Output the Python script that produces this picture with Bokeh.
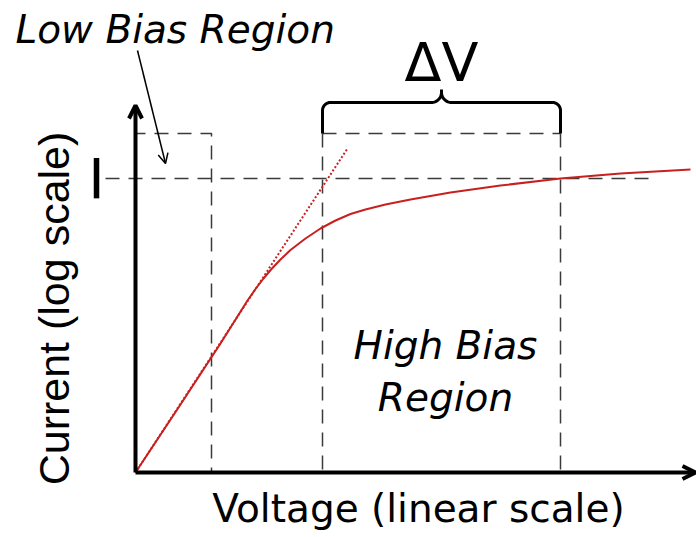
import numpy as np
from bokeh.plotting import figure
from bokeh.models import Range1d, Arrow, OpenHead
from bokeh.core.properties import value
from bokeh.embed import file_html
from bokeh.resources import INLINE

# I-V characteristic (voltage linear, current log), arbitrary units
voltage = [0, 45, 85, 112, 120, 128, 136, 145, 155, 170, 185, 200, 215, 230, 250, 275, 315, 365, 425, 485, 555]
current = [0, 68, 129, 172, 183.5, 194, 203.5, 213, 222.5, 234, 244, 252, 258.5, 263, 268, 273, 280, 287, 294, 299, 303]

# ideal (low-bias) exponential extrapolation
tangent_v = [0, 212]
tangent_i = [0, 324]

# region limits and reference current level
v_low_end = 76
v_high_start = 187
v_high_end = 425
i_level = 294
box_top = 339
v_axis_end = 560
i_axis_end = 367

RED = "#c8201e"
DASH_COL = "#3a3a3a"
DASH = "14 9"
FONT = "DejaVu Sans"

p = figure(width=696, height=537, x_range=Range1d(-135, 561), y_range=Range1d(-65, 472),
           output_backend="svg", toolbar_location=None, min_border=0,
           x_axis_type=None, y_axis_type=None)
p.grid.visible = False
p.outline_line_color = None
p.background_fill_color = "white"
p.border_fill_color = "white"

# low-bias region box
p.line([0, v_low_end, v_low_end], [box_top, box_top, 0], line_color=DASH_COL,
       line_width=1.5, line_dash=DASH, line_dash_offset=4)
# high-bias region box
p.line([v_high_start, v_high_end], [box_top, box_top], line_color=DASH_COL,
       line_width=1.5, line_dash=DASH)
p.line([v_high_start, v_high_start], [box_top, 0], line_color=DASH_COL,
       line_width=1.5, line_dash=DASH)
p.line([v_high_end, v_high_end], [box_top, 0], line_color=DASH_COL,
       line_width=1.5, line_dash=DASH)
# reference current level
p.line([-30, 520], [i_level, i_level], line_color=DASH_COL, line_width=1.5, line_dash=DASH)

# curly brace over the high-bias region
mid = (v_high_start + v_high_end) / 2
brace_y = box_top + 31
r1, r2 = 8, 10
th1 = np.linspace(np.pi, np.pi / 2, 12)
th2 = np.linspace(-np.pi / 2, 0, 12)
left_x = np.concatenate([[v_high_start], v_high_start + r1 + r1 * np.cos(th1),
                         mid - r2 + r2 * np.cos(th2), [mid]])
left_y = np.concatenate([[box_top], brace_y - r1 + r1 * np.sin(th1),
                         brace_y + r2 + r2 * np.sin(th2), [brace_y + 13]])
bx = np.concatenate([left_x, (2 * mid - left_x)[::-1]])
by = np.concatenate([left_y, left_y[::-1]])
p.line(bx, by, line_color="black", line_width=3)

# curves
p.line(tangent_v, tangent_i, line_color=RED, line_width=2, line_dash="2 2")
p.line(voltage, current, line_color=RED, line_width=2, line_join="round")

# axes with arrowheads
p.add_layout(Arrow(end=OpenHead(size=13, line_width=4, line_color="black"),
                   x_start=0, y_start=0, x_end=0, y_end=i_axis_end,
                   line_width=4, line_color="black"))
p.add_layout(Arrow(end=OpenHead(size=13, line_width=4, line_color="black"),
                   x_start=0, y_start=0, x_end=v_axis_end, y_end=0,
                   line_width=4, line_color="black"))

# pointer for the low-bias label
p.add_layout(Arrow(end=OpenHead(size=10, line_width=1.5, line_color="black"),
                   x_start=2, y_start=422, x_end=30, y_end=309,
                   line_width=1.5, line_color="black"))

# labels
p.text(x=[-120], y=[443], text=["Low Bias Region"], text_font=value(FONT),
       text_font_style="italic", text_font_size=value("39px"), text_color="black",
       text_align="left", text_baseline="alphabetic")
p.text(x=[mid], y=[410], text=["ΔV"], text_font=value(FONT),
       text_font_size=value("54px"), text_color="black",
       text_align="center", text_baseline="alphabetic")
p.text(x=[-39], y=[294], text=["I"], text_font=value(FONT),
       text_font_size=value("56px"), text_color="black",
       text_align="center", text_baseline="alphabetic")
p.text(x=[310, 310], y=[127, 75], text=["High Bias", "Region"], text_font=value(FONT),
       text_font_style="italic", text_font_size=value("39px"), text_color="black",
       text_align="center", text_baseline="alphabetic")
p.text(x=[283], y=[-36], text=["Voltage (linear scale)"], text_font=value(FONT),
       text_font_size=value("39px"), text_color="black",
       text_align="center", text_baseline="alphabetic")
p.text(x=[-82], y=[164], text=["Current (log scale)"], text_font=value("Liberation Sans"),
       text_font_size=value("43px"), text_color="black", angle=np.pi / 2,
       text_align="center", text_baseline="alphabetic")

open("out.html", "w").write(file_html(p, INLINE))
